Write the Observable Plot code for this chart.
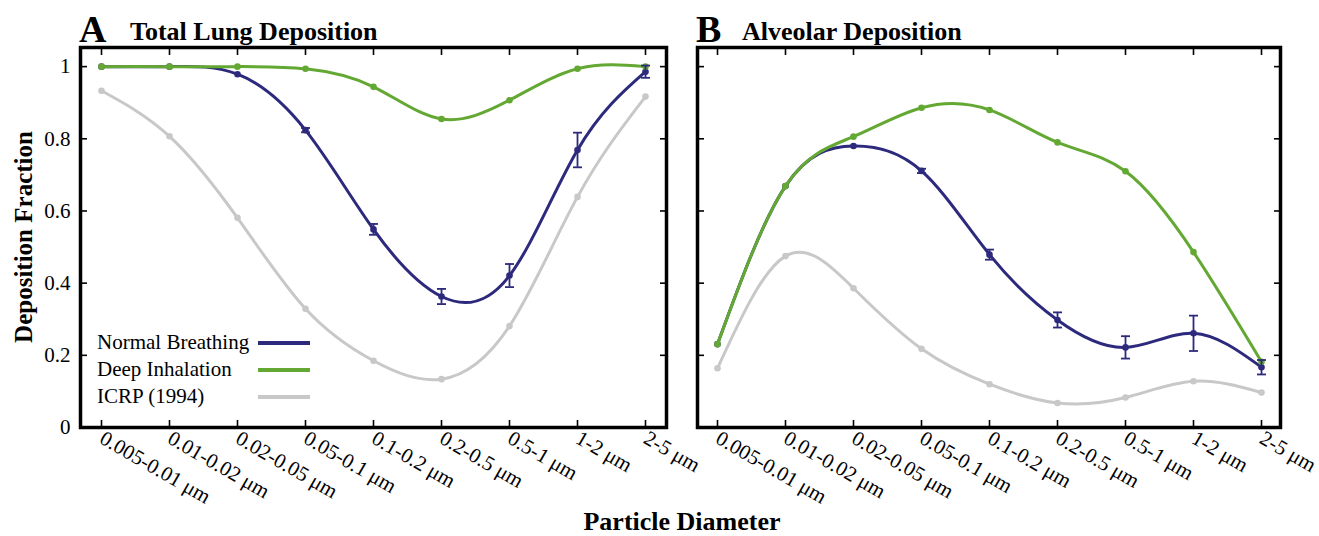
<!DOCTYPE html>
<html><head><meta charset="utf-8">
<script src="https://cdn.jsdelivr.net/npm/d3@7"></script>
<script src="https://cdn.jsdelivr.net/npm/@observablehq/plot@0.6"></script>
<style>
html,body{margin:0;padding:0;background:#fff;}
#wrap{position:relative;width:1319px;height:536px;overflow:hidden;font-family:"Liberation Serif","Times New Roman",serif;color:#000;background:#fff;}
#wrap > svg{position:absolute;left:0;top:0;}
.leg{position:absolute;left:97px;font-size:21px;line-height:27px;white-space:nowrap;}
.leg div{height:27px;position:relative;}
.leg span.ln{position:absolute;left:161px;top:12px;width:52px;height:4px;}
</style></head><body><div id="wrap"></div>
<script>
// ---- data ----
const categories = ["0.005-0.01 μm", "0.01-0.02 μm", "0.02-0.05 μm", "0.05-0.1 μm", "0.1-0.2 μm", "0.2-0.5 μm", "0.5-1 μm", "1-2 μm", "2-5 μm"];
const yTicks = [0, 0.2, 0.4, 0.6, 0.8, 1];
const seriesNames = ["Normal Breathing", "Deep Inhalation", "ICRP (1994)"];

const totalNormal    = [1.0, 1.0, 0.979, 0.824, 0.549, 0.363, 0.421, 0.769, 0.986];
const totalNormalErr = [0, 0, 0.004, 0.006, 0.015, 0.021, 0.032, 0.048, 0.017];
const totalDeep      = [1.0, 1.0, 1.0, 0.994, 0.944, 0.855, 0.907, 0.994, 1.0];
const totalICRP      = [0.933, 0.807, 0.581, 0.329, 0.185, 0.134, 0.281, 0.639, 0.917];

const alvNormal    = [0.231, 0.669, 0.780, 0.711, 0.479, 0.298, 0.222, 0.261, 0.167];
const alvNormalErr = [0, 0, 0.004, 0.006, 0.014, 0.021, 0.031, 0.049, 0.020];
const alvDeep      = [0.231, 0.669, 0.806, 0.886, 0.880, 0.790, 0.710, 0.486, 0.182];
const alvICRP      = [0.164, 0.475, 0.386, 0.218, 0.120, 0.068, 0.083, 0.128, 0.097];

const colors = {normal: "#2d2a7d", deep: "#63a833", icrp: "#c8c8c8"};
const yTop = 1.053;

const capSymbol = {
  draw(ctx, size) {
    const w = Math.sqrt(size / Math.PI);
    ctx.moveTo(-w, 0);
    ctx.lineTo(w, 0);
  }
};

function makePanel(ml, mr, pad, normal, normalErr, deep, icrp, showYLabels) {
  const rows = (vals) => categories.map((c, i) => ({cat: c, v: vals[i]}));
  const nb = categories.map((c, i) => ({cat: c, v: normal[i], lo: normal[i] - normalErr[i], hi: normal[i] + normalErr[i], e: normalErr[i]}));
  const errs = nb.filter(d => d.e > 0.005);
  const plot = Plot.plot({
    width: 1319, height: 536,
    marginLeft: ml, marginRight: mr, marginTop: 47, marginBottom: 109,
    style: {fontFamily: "Liberation Serif, Times New Roman, serif", fontSize: "21px", background: "none", overflow: "visible", color: "#000"},
    x: {type: "point", domain: categories, padding: pad, label: null},
    y: {domain: [0, yTop], label: null},
    marks: [
      Plot.axisX({anchor: "top", tickSize: -7, strokeWidth: 1.6, tickFormat: () => "", label: null}),
      Plot.axisX({anchor: "bottom", tickSize: -7, strokeWidth: 1.6, tickFormat: () => "", label: null}),
      Plot.axisX({anchor: "bottom", tickSize: 0, tickRotate: 30, tickPadding: 9, label: null, fontSize: 21}),
      Plot.axisY({anchor: "left", ticks: yTicks, tickSize: -7, strokeWidth: 1.6, tickFormat: () => "", label: null}),
      Plot.axisY({anchor: "right", ticks: yTicks, tickSize: -7, strokeWidth: 1.6, tickFormat: () => "", label: null}),
      showYLabels ? Plot.axisY({anchor: "left", ticks: yTicks, tickSize: 0, tickPadding: 10, tickFormat: d => String(d), label: null, fontSize: 21}) : null,
      Plot.line(rows(icrp), {x: "cat", y: "v", stroke: colors.icrp, strokeWidth: 3, curve: "natural"}),
      Plot.dot(rows(icrp), {x: "cat", y: "v", fill: colors.icrp, r: 3.3}),
      Plot.line(nb, {x: "cat", y: "v", stroke: colors.normal, strokeWidth: 3, curve: "natural"}),
      Plot.dot(nb, {x: "cat", y: "v", fill: colors.normal, r: 3.3}),
      Plot.line(rows(deep), {x: "cat", y: "v", stroke: colors.deep, strokeWidth: 3, curve: "natural"}),
      Plot.dot(rows(deep), {x: "cat", y: "v", fill: colors.deep, r: 3.3}),
      Plot.ruleX(errs, {x: "cat", y1: "lo", y2: "hi", stroke: colors.normal, strokeWidth: 1.8}),
      Plot.dot(errs, {x: "cat", y: "lo", symbol: capSymbol, r: 4.5, stroke: colors.normal, fill: "none", strokeWidth: 1.8}),
      Plot.dot(errs, {x: "cat", y: "hi", symbol: capSymbol, r: 4.5, stroke: colors.normal, fill: "none", strokeWidth: 1.8}),
      Plot.frame({stroke: "#000", strokeWidth: 3.5})
    ]
  });
  return plot;
}

const wrap = document.getElementById("wrap");
wrap.appendChild(makePanel(80, 1319 - 666, 0.29, totalNormal, totalNormalErr, totalDeep, totalICRP, true));
wrap.appendChild(makePanel(697, 1319 - 1280, 0.26, alvNormal, alvNormalErr, alvDeep, alvICRP, false));

// titles and axis labels
const ns = "http://www.w3.org/2000/svg";
const ov = document.createElementNS(ns, "svg");
ov.setAttribute("width", 1319); ov.setAttribute("height", 536);
ov.style.fontFamily = "Liberation Serif, Times New Roman, serif";
ov.style.overflow = "visible";
function txt(s, x, y, size, opts = {}) {
  const t = document.createElementNS(ns, "text");
  t.textContent = s;
  t.setAttribute("x", x); t.setAttribute("y", y);
  t.setAttribute("font-size", size);
  t.setAttribute("font-weight", "bold");
  if (opts.anchor) t.setAttribute("text-anchor", opts.anchor);
  if (opts.transform) t.setAttribute("transform", opts.transform);
  ov.appendChild(t);
}
txt("A", 79, 42, 38);
txt("Total Lung Deposition", 130, 40, 26);
txt("B", 696, 42, 38);
txt("Alveolar Deposition", 742, 40, 26);
txt("Particle Diameter", 0, 0, 26, {anchor: "middle", transform: "translate(682,530)"});
txt("Deposition Fraction", 0, 0, 25, {anchor: "middle", transform: "translate(32,237) rotate(-90)"});
wrap.appendChild(ov);

// legend
const leg = document.createElement("div");
leg.className = "leg";
leg.style.top = "329px";
const legColors = [colors.normal, colors.deep, colors.icrp];
seriesNames.forEach((n, i) => {
  const row = document.createElement("div");
  row.appendChild(document.createTextNode(n));
  const ln = document.createElement("span");
  ln.className = "ln";
  ln.style.background = legColors[i];
  row.appendChild(ln);
  leg.appendChild(row);
});
wrap.appendChild(leg);
</script></body></html>
